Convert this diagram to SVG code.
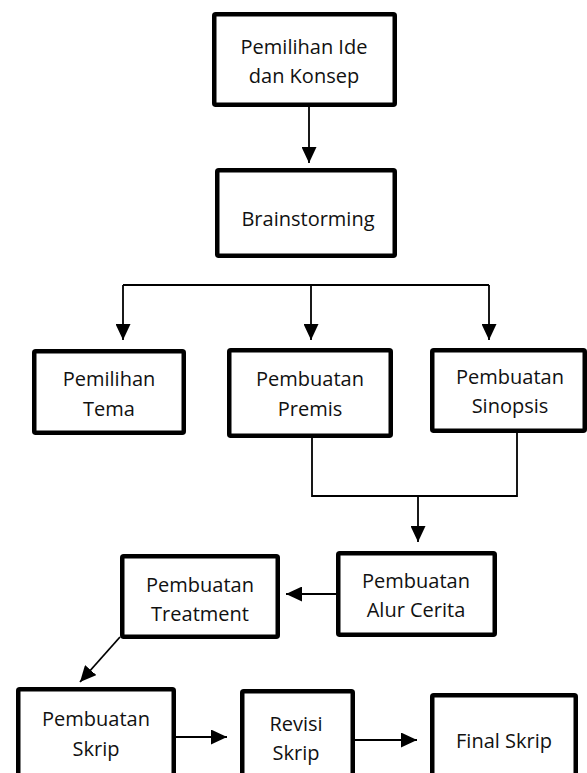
<svg xmlns="http://www.w3.org/2000/svg" width="587" height="773" viewBox="0 0 587 773">
<style>
.box{fill:#fff;stroke:#000;stroke-width:4.5}
.t{font-family:"Open Sans","Liberation Sans",sans-serif;font-size:20px;fill:#111;text-anchor:middle}
.c{fill:none;stroke:#000;stroke-width:1.8}
</style>
<defs>
<marker id="ah" markerUnits="userSpaceOnUse" markerWidth="16" markerHeight="15" viewBox="0 0 16 15" refX="16" refY="7.5" orient="auto">
<path d="M0,0 L16,7.5 L0,15 z" fill="#000"/>
</marker>
</defs>
<rect width="587" height="773" fill="#fff"/>
<g id="connectors">
<path class="c" d="M309,107 V163" marker-end="url(#ah)"/>
<path class="c" d="M123,285 H489"/>
<path class="c" d="M123,285 V340" marker-end="url(#ah)"/>
<path class="c" d="M311,285 V340" marker-end="url(#ah)"/>
<path class="c" d="M489,285 V340" marker-end="url(#ah)"/>
<path class="c" d="M312,438 V496 H517 V433"/>
<path class="c" d="M418,496 V542" marker-end="url(#ah)"/>
<path class="c" d="M336,594 H286" marker-end="url(#ah)"/>
<path class="c" d="M120,637 L80,682" marker-end="url(#ah)"/>
<path class="c" d="M176,737 H227" marker-end="url(#ah)"/>
<path class="c" d="M355,740 H417" marker-end="url(#ah)"/>
</g>
<g id="ide">
<rect class="box" x="214.25" y="14.25" width="180.5" height="90.5" rx="1.5"/>
<text class="t" x="304" y="54">Pemilihan Ide</text>
<text class="t" x="304" y="83">dan Konsep</text>
</g>
<g id="brainstorming">
<rect class="box" x="217.25" y="170.25" width="177.5" height="85.5" rx="1.5"/>
<text class="t" x="308" y="226">Brainstorming</text>
</g>
<g id="tema">
<rect class="box" x="34.25" y="351.25" width="149.5" height="81.5" rx="1.5"/>
<text class="t" x="109" y="386">Pemilihan</text>
<text class="t" x="109" y="416">Tema</text>
</g>
<g id="premis">
<rect class="box" x="229.25" y="350.25" width="161.5" height="85.5" rx="1.5"/>
<text class="t" x="310" y="386">Pembuatan</text>
<text class="t" x="310" y="416">Premis</text>
</g>
<g id="sinopsis">
<rect class="box" x="432.25" y="350.25" width="152.5" height="80.5" rx="1.5"/>
<text class="t" x="510" y="384">Pembuatan</text>
<text class="t" x="510" y="413">Sinopsis</text>
</g>
<g id="alur">
<rect class="box" x="338.25" y="553.25" width="156.5" height="81.5" rx="1.5"/>
<text class="t" x="416" y="588">Pembuatan</text>
<text class="t" x="416" y="617">Alur Cerita</text>
</g>
<g id="treatment">
<rect class="box" x="122.25" y="556.25" width="155.5" height="80.5" rx="1.5"/>
<text class="t" x="200" y="592">Pembuatan</text>
<text class="t" x="200" y="621">Treatment</text>
</g>
<g id="skrip">
<rect class="box" x="18.25" y="689.25" width="155.5" height="100" rx="1.5"/>
<text class="t" x="96" y="726">Pembuatan</text>
<text class="t" x="96" y="756">Skrip</text>
</g>
<g id="revisi">
<rect class="box" x="242.25" y="691.25" width="110.5" height="100" rx="1.5"/>
<text class="t" x="296" y="731">Revisi</text>
<text class="t" x="296" y="760">Skrip</text>
</g>
<g id="final">
<rect class="box" x="432.25" y="695.25" width="143.5" height="100" rx="1.5"/>
<text class="t" x="504" y="748">Final Skrip</text>
</g>
</svg>
